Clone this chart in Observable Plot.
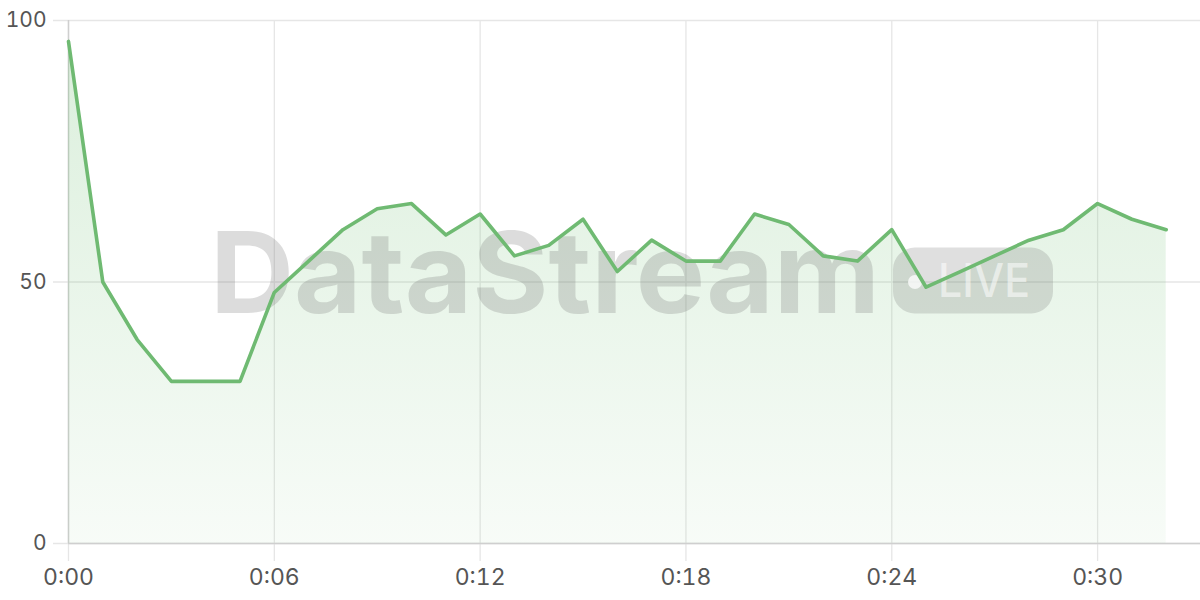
<!DOCTYPE html>
<html><head><meta charset="utf-8">
<script src="https://cdn.jsdelivr.net/npm/d3@7"></script>
<script src="https://cdn.jsdelivr.net/npm/@observablehq/plot@0.6"></script>
<style>html,body{margin:0;padding:0;background:#fff;}</style>
</head><body><div id="chart"></div>
<script>
const seconds = [0,1,2,3,4,5,6,7,8,9,10,11,12,13,14,15,16,17,18,19,20,21,22,23,24,25,26,27,28,29,30,31,32];
const values  = [96,50,39,31,31,31,48,54,60,64,65,59,63,55,57,62,52,58,54,54,63,61,55,54,60,49,52,55,58,60,65,62,60];
const xTicks = [0,6,12,18,24,30];
const yTicks = [0,50,100];
const watermarkTitle = "DataStream";
const watermarkBadge = "LIVE";

const data = seconds.map((s, i) => ({s, v: values[i]}));
const fmt = d => `0:${String(d).padStart(2, "0")}`;

const gradientDefs = () => {
  const defs = d3.create("svg:defs");
  const g = defs.append("linearGradient").attr("id", "fillGrad")
    .attr("gradientUnits", "userSpaceOnUse")
    .attr("x1", 0).attr("x2", 0).attr("y1", 20).attr("y2", 543);
  g.append("stop").attr("offset", "0%").attr("stop-color", "#66bb6a").attr("stop-opacity", 0.24);
  g.append("stop").attr("offset", "100%").attr("stop-color", "#66bb6a").attr("stop-opacity", 0.05);
  return defs.node();
};

const watermark = (index, scales, vals, dims) => {
  const {width, height, marginLeft, marginRight, marginTop, marginBottom} = dims;
  const cx = (marginLeft + width - marginRight) / 2;
  const cy = (marginTop + height - marginBottom) / 2;
  const g = d3.create("svg:g").attr("font-family", "Inter, sans-serif").attr("text-anchor", "start");
  g.append("text").attr("x", cx - 424).attr("y", cy + 31)
    .attr("text-anchor", "start")
    .attr("font-size", 113).attr("font-weight", 700)
    .attr("fill", "rgb(110,110,110)").attr("fill-opacity", 0.24)
    .attr("textLength", 670).attr("lengthAdjust", "spacingAndGlyphs")
    .text(watermarkTitle);
  g.append("rect").attr("x", cx + 259).attr("y", cy - 34).attr("width", 160).attr("height", 66)
    .attr("rx", 22).attr("fill", "rgb(110,110,110)").attr("fill-opacity", 0.22);
  g.append("circle").attr("cx", cx + 281).attr("cy", cy + 0.5).attr("r", 7)
    .attr("fill", "#fff").attr("fill-opacity", 0.75);
  g.append("text").attr("x", cx + 304).attr("y", cy + 15)
    .attr("text-anchor", "start")
    .attr("font-size", 46).attr("font-weight", 500)
    .attr("fill", "#fff").attr("fill-opacity", 0.55)
    .attr("textLength", 92).attr("lengthAdjust", "spacingAndGlyphs")
    .text(watermarkBadge);
  return g.node();
};

const chart = Plot.plot({
  width: 1200,
  height: 600,
  marginLeft: 68,
  marginRight: 0,
  marginTop: 20,
  marginBottom: 57,
  style: {fontFamily: "Inter, sans-serif", fontSize: "21px", color: "#555", background: "#fff"},
  x: {domain: [0, 33], ticks: xTicks, tickFormat: fmt, label: null},
  y: {domain: [0, 100], ticks: yTicks, label: null},
  marks: [
    gradientDefs,
    Plot.gridX(xTicks, {stroke: "#e6e6e6", strokeOpacity: 1, strokeWidth: 1.3, insetBottom: -18}),
    Plot.gridY(yTicks, {stroke: "#e6e6e6", strokeOpacity: 1, strokeWidth: 1.3, insetLeft: -15}),
    Plot.ruleX([0], {stroke: "#cfcfcf", strokeWidth: 1.5}),
    Plot.ruleY([0], {stroke: "#cfcfcf", strokeWidth: 1.5}),
    Plot.areaY(data, {x: "s", y: "v", fill: "url(#fillGrad)"}),
    watermark,
    Plot.lineY(data, {x: "s", y: "v", stroke: "#6fba72", strokeWidth: 3.6, strokeLinejoin: "round"}),
    Plot.axisX(xTicks, {tickSize: 0, tickPadding: 25, tickFormat: fmt, fontSize: 23, fill: "#555"}),
    Plot.axisY(yTicks, {tickSize: 0, tickPadding: 22, fontSize: 21, fill: "#555"})
  ]
});
document.getElementById("chart").append(chart);
</script>
</body></html>
